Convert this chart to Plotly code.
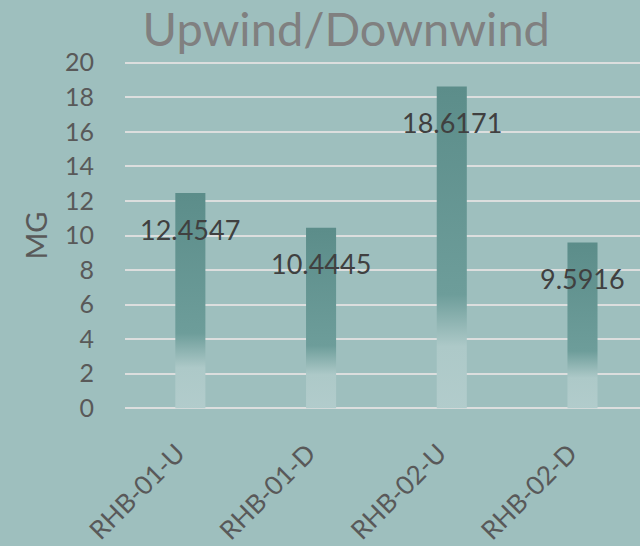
import plotly.graph_objects as go

categories = ["RHB-01-U", "RHB-01-D", "RHB-02-U", "RHB-02-D"]
values = [12.4547, 10.4445, 18.6171, 9.5916]
labels = ["12.4547", "10.4445", "18.6171", "9.5916"]
y_ticks = [0, 2, 4, 6, 8, 10, 12, 14, 16, 18, 20]

BG = "#9ebfbe"
half_w = 0.115
font_family = "Lato, 'Open Sans', sans-serif"

fig = go.Figure()
for i, v in enumerate(values):
    xs = [i - half_w, i + half_w, i + half_w, i - half_w, i - half_w]
    ys = [0, 0, v, v, 0]
    fig.add_trace(go.Scatter(
        x=xs, y=ys, mode="lines", fill="toself",
        line=dict(width=0, color="rgba(0,0,0,0)"),
        fillgradient=dict(
            type="vertical", start=0, stop=v,
            colorscale=[[0, "#b2cccc"], [0.2, "#adc9c8"], [0.36, "#6d9d9a"],
                        [1, "#5c8d8a"]],
        ),
        hoverinfo="skip", showlegend=False,
    ))

for i, (v, t) in enumerate(zip(values, labels)):
    fig.add_annotation(x=i, y=v, text=t, showarrow=False, yshift=-36,
                       yanchor="middle", xanchor="center",
                       font=dict(size=27, color="#404040", family=font_family))

fig.update_layout(
    width=640, height=546,
    paper_bgcolor=BG, plot_bgcolor=BG,
    margin=dict(l=125, r=0, t=61, b=133),
    title=dict(text="Upwind/Downwind", x=0.541, xanchor="center",
               y=0.945, yanchor="middle", xref="container",
               font=dict(size=47, color="#808080", family=font_family)),
    showlegend=False,
)
fig.update_xaxes(
    range=[-0.5, 3.44], tickmode="array", tickvals=list(range(len(categories))),
    ticktext=categories, tickangle=-45, showgrid=False, zeroline=False,
    showline=False, ticks="", ticklabelstandoff=22, ticklabelshift=-13,
    tickfont=dict(size=26, color="#595959", family=font_family),
)
fig.update_yaxes(
    range=[-0.1, 20.1], tickvals=y_ticks, showgrid=True, gridcolor="#dcdede",
    gridwidth=2, zeroline=False, showline=False, ticks="",
    ticklabelstandoff=30,
    tickfont=dict(size=25, color="#595959", family=font_family),
    title=dict(text="MG", standoff=8,
               font=dict(size=29, color="#595959", family=font_family)),
)

fig.write_html("out.html", config={"displayModeBar": False},
               post_script="document.body.style.margin='0';")
